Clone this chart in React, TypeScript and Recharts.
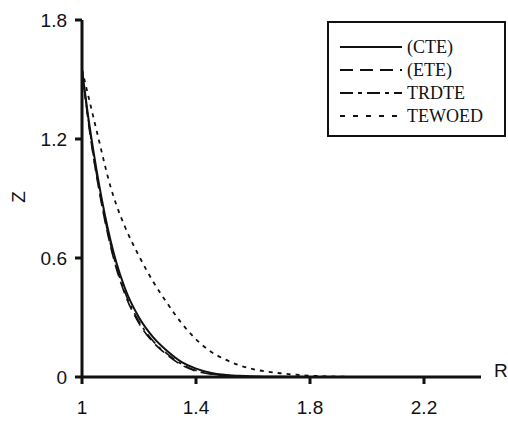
import React from 'react';
import { LineChart, Line, XAxis, YAxis } from 'recharts';

const rValues = [1.0, 1.02, 1.04, 1.06, 1.08, 1.1, 1.12, 1.15, 1.2, 1.25, 1.3, 1.35, 1.4, 1.45, 1.5, 1.55, 1.6, 1.7, 1.8, 1.9, 2.0];
const cte = [1.55, 1.33, 1.14, 0.97, 0.82, 0.69, 0.58, 0.45, 0.3, 0.2, 0.13, 0.075, 0.042, 0.022, 0.011, 0.006, 0.003, 0.001, 0, 0, 0];
const ete = [1.55, 1.31, 1.11, 0.94, 0.79, 0.66, 0.55, 0.42, 0.27, 0.175, 0.11, 0.06, 0.03, 0.015, 0.007, 0.004, 0.002, 0.001, 0, 0, 0];
const trdte = [1.55, 1.32, 1.12, 0.95, 0.8, 0.67, 0.56, 0.43, 0.28, 0.18, 0.115, 0.065, 0.033, 0.017, 0.008, 0.005, 0.002, 0, 0, 0, 0];
const tewoed = [1.55, 1.43, 1.31, 1.19, 1.07, 0.96, 0.87, 0.76, 0.61, 0.48, 0.37, 0.27, 0.19, 0.13, 0.09, 0.06, 0.04, 0.018, 0.007, 0.002, 0];

const xTicks = [1, 1.4, 1.8, 2.2];
const yTicks = [0, 0.6, 1.2, 1.8];

const series = [
  { key: 'cte', name: '(CTE)', dash: undefined, legendDash: undefined, width: 2 },
  { key: 'ete', name: '(ETE)', dash: '12 6', legendDash: '13 7', width: 1.6 },
  { key: 'trdte', name: 'TRDTE', dash: '12 5 3 5', legendDash: '13 5 4 5', width: 1.6 },
  { key: 'tewoed', name: 'TEWOED', dash: '4 5', legendDash: '5 8', width: 1.8 },
];

const data = rValues.map((r, i) => ({
  r,
  cte: cte[i],
  ete: ete[i],
  trdte: trdte[i],
  tewoed: tewoed[i],
}));

const tickStyle = { fontFamily: '"Liberation Sans", Arial, sans-serif', fontSize: 19, fill: '#111' };

export default function App() {
  return (
    <div style={{ position: 'absolute', left: 0, top: 0, width: 508, height: 421, background: '#fff' }}>
      <LineChart width={508} height={421} data={data} margin={{ top: 20, right: 27, bottom: 0, left: 0 }}>
        <XAxis
          dataKey="r"
          type="number"
          domain={[1, 2.4]}
          ticks={xTicks}
          height={44}
          tick={tickStyle}
          tickSize={7}
          tickMargin={17}
          axisLine={{ stroke: '#111', strokeWidth: 3 }}
          tickLine={{ stroke: '#111', strokeWidth: 3 }}
        />
        <YAxis
          type="number"
          domain={[0, 1.8]}
          ticks={yTicks}
          width={82}
          tick={tickStyle}
          tickSize={7}
          tickMargin={8}
          axisLine={{ stroke: '#111', strokeWidth: 3 }}
          tickLine={{ stroke: '#111', strokeWidth: 3 }}
        />
        {series.map((s) => (
          <Line
            key={s.key}
            type="monotone"
            dataKey={s.key}
            stroke="#111"
            strokeWidth={s.width}
            strokeDasharray={s.dash}
            dot={false}
            isAnimationActive={false}
          />
        ))}
      </LineChart>
      <div style={{ position: 'absolute', left: 13, top: 186, fontFamily: '"Liberation Sans", Arial, sans-serif', fontSize: 19, color: '#111', transform: 'rotate(-90deg)' }}>
        Z
      </div>
      <div style={{ position: 'absolute', left: 494, top: 360, fontFamily: '"Liberation Sans", Arial, sans-serif', fontSize: 19, color: '#111' }}>
        R
      </div>
      <div style={{ position: 'absolute', left: 327, top: 21, width: 179, height: 116, border: '2px solid #111', boxSizing: 'border-box', background: '#fff' }}>
        <svg width={175} height={112} style={{ display: 'block' }}>
          {series.map((s, i) => {
            const y = 24 + i * 23;
            return (
              <g key={s.key}>
                <line x1={11} x2={73} y1={y} y2={y} stroke="#111" strokeWidth={2} strokeDasharray={s.legendDash} />
                <text x={78} y={y + 6} fontFamily='"Liberation Serif", "Times New Roman", serif' fontSize={18} fill="#111">
                  {s.name}
                </text>
              </g>
            );
          })}
        </svg>
      </div>
    </div>
  );
}
